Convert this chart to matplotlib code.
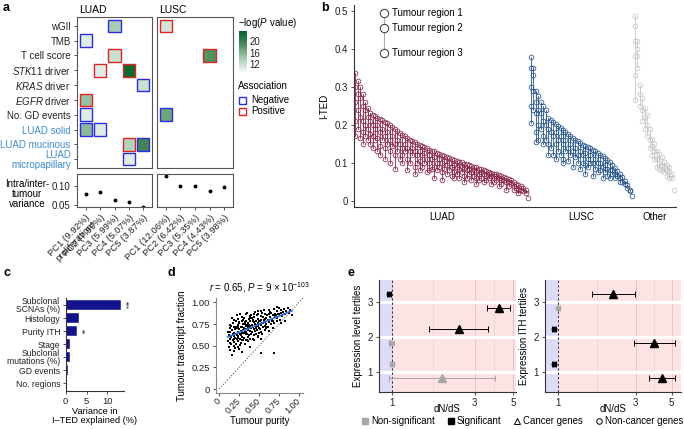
import numpy as np
import matplotlib
matplotlib.use('Agg')
import matplotlib.pyplot as plt
from matplotlib.patches import Rectangle
from matplotlib.colors import LinearSegmentedColormap, Normalize
from matplotlib.lines import Line2D
import matplotlib.transforms as mtransforms

plt.rcParams['font.family'] = ['Liberation Sans', 'DejaVu Sans']
plt.rcParams['mathtext.fontset'] = 'custom'
plt.rcParams['mathtext.rm'] = 'Liberation Sans'
plt.rcParams['mathtext.it'] = 'Liberation Sans:italic'
plt.rcParams['font.size'] = 7
plt.rcParams['axes.edgecolor'] = '#333333'
plt.rcParams['xtick.color'] = '#333333'
plt.rcParams['ytick.color'] = '#333333'
plt.rcParams['xtick.labelcolor'] = '#222222'
plt.rcParams['ytick.labelcolor'] = '#222222'

# ---------------- DATA ----------------
# panel a
a_rows = ['wGII', 'TMB', 'T cell score', r'$\mathit{STK11}$ driver', r'$\mathit{KRAS}$ driver',
          r'$\mathit{EGFR}$ driver', 'No. GD events', 'LUAD solid', 'LUAD mucinous', 'LUAD\nmicropapillary']
a_luad_pcs = ['PC1 (9.92%)\nproliferation*', 'PC2 (7.99%)', 'PC3 (5.99%)', 'PC4 (5.07%)', 'PC5 (3.87%)']
a_lusc_pcs = ['PC1 (12.06%)', 'PC2 (6.42%)', 'PC3 (5.35%)', 'PC4 (4.43%)', 'PC5 (3.98%)']
tile_cohort = ['LUAD'] * 13 + ['LUSC'] * 3
tile_row = [0, 1, 2, 3, 3, 4, 5, 6, 7, 7, 8, 8, 9, 0, 2, 6]
tile_pc = [2, 0, 2, 1, 3, 4, 0, 0, 0, 1, 3, 4, 3, 0, 3, 0]
tile_logp = [14.0, 10.5, 12.0, 10.5, 23.0, 12.0, 15.0, 10.5, 15.5, 10.5, 13.5, 19.5, 10.5, 11.5, 18.5, 17.0]
tile_assoc = ['Negative', 'Negative', 'Positive', 'Positive', 'Positive', 'Negative', 'Positive', 'Negative',
              'Negative', 'Negative', 'Positive', 'Negative', 'Negative', 'Positive', 'Positive', 'Negative']
var_luad = [0.079, 0.083, 0.063, 0.059, 0.046]
var_lusc = [0.127, 0.099, 0.100, 0.088, 0.097]

# panel b: I-TED per tumour region (each inner list = one tumour)
luad_ited = [
    [0.335, 0.30, 0.26, 0.21, 0.17], [0.315, 0.28, 0.24, 0.19], [0.30, 0.27, 0.22, 0.165],
    [0.28, 0.25, 0.21, 0.18, 0.15], [0.26, 0.24, 0.20, 0.17], [0.245, 0.22, 0.19, 0.16],
    [0.232, 0.21, 0.175, 0.15], [0.226, 0.20, 0.17, 0.14], [0.222, 0.19, 0.16],
    [0.219, 0.20, 0.165, 0.13], [0.216, 0.18, 0.145, 0.12], [0.213, 0.19, 0.16],
    [0.208, 0.17, 0.14, 0.11], [0.204, 0.18, 0.15], [0.200, 0.16, 0.13, 0.10],
    [0.195, 0.17, 0.145], [0.190, 0.15, 0.12, 0.085], [0.184, 0.16, 0.13],
    [0.178, 0.15, 0.11], [0.174, 0.14, 0.12, 0.10], [0.170, 0.15, 0.13],
    [0.166, 0.14, 0.11, 0.08], [0.161, 0.13, 0.10], [0.158, 0.14, 0.12],
    [0.154, 0.13, 0.09, 0.07], [0.150, 0.12, 0.10], [0.147, 0.13, 0.105, 0.08],
    [0.144, 0.12, 0.09], [0.141, 0.125, 0.10], [0.138, 0.11, 0.075],
    [0.135, 0.12, 0.10, 0.08], [0.132, 0.11, 0.085], [0.130, 0.115, 0.09, 0.06],
    [0.127, 0.10, 0.08], [0.124, 0.11, 0.09], [0.122, 0.10, 0.075, 0.055],
    [0.119, 0.105, 0.085], [0.116, 0.095, 0.07], [0.114, 0.10, 0.08],
    [0.111, 0.09, 0.065], [0.108, 0.095, 0.075, 0.06], [0.106, 0.09, 0.07],
    [0.103, 0.085, 0.06], [0.101, 0.09, 0.075], [0.098, 0.085, 0.065, 0.05],
    [0.096, 0.08, 0.06], [0.094, 0.085, 0.07], [0.092, 0.075, 0.055],
    [0.090, 0.08, 0.065], [0.088, 0.075, 0.06, 0.045], [0.085, 0.07, 0.055],
    [0.083, 0.075, 0.06], [0.081, 0.07, 0.05], [0.078, 0.065, 0.055],
    [0.076, 0.07, 0.06], [0.074, 0.065, 0.045], [0.072, 0.06, 0.05],
    [0.070, 0.065, 0.055], [0.068, 0.06, 0.04], [0.066, 0.055, 0.045],
    [0.063, 0.055], [0.060, 0.05, 0.03], [0.058, 0.05, 0.04], [0.055, 0.045],
    [0.050, 0.04, 0.03], [0.045, 0.035], [0.041, 0.03, 0.02], [0.038, 0.03],
    [0.035, 0.025], [0.030, 0.02], [0.008],
]
lusc_ited = [
    [0.378, 0.35, 0.30, 0.25, 0.205], [0.35, 0.33, 0.29, 0.24], [0.29, 0.26, 0.23, 0.18, 0.155],
    [0.275, 0.24, 0.20, 0.16], [0.26, 0.23, 0.19], [0.25, 0.21, 0.17, 0.15], [0.24, 0.20, 0.16],
    [0.217, 0.19, 0.15, 0.12], [0.212, 0.18, 0.14], [0.208, 0.17, 0.12], [0.203, 0.18, 0.15, 0.11],
    [0.198, 0.16, 0.13], [0.192, 0.17, 0.12], [0.187, 0.15, 0.11, 0.10], [0.181, 0.16, 0.13],
    [0.176, 0.14, 0.105], [0.170, 0.15, 0.12], [0.165, 0.13, 0.09], [0.161, 0.14, 0.115],
    [0.157, 0.12, 0.10], [0.152, 0.13, 0.085], [0.148, 0.12, 0.10], [0.145, 0.125, 0.095, 0.07],
    [0.141, 0.11, 0.09], [0.138, 0.12, 0.10], [0.134, 0.10, 0.065], [0.130, 0.11, 0.085],
    [0.126, 0.10, 0.075], [0.122, 0.10, 0.08], [0.117, 0.09, 0.06], [0.112, 0.095, 0.075],
    [0.107, 0.085, 0.065], [0.101, 0.08, 0.06], [0.095, 0.08, 0.07], [0.087, 0.07, 0.06],
    [0.079, 0.065], [0.071, 0.06, 0.05], [0.062, 0.05], [0.053, 0.045], [0.043, 0.035],
    [0.030, 0.025], [0.012],
]
other_ited = [
    [0.487, 0.46, 0.42, 0.38, 0.33, 0.265], [0.42, 0.40, 0.38, 0.35], [0.305, 0.28, 0.25],
    [0.27, 0.24, 0.21], [0.245, 0.22, 0.19], [0.225, 0.20, 0.17], [0.19, 0.16, 0.14],
    [0.163, 0.145, 0.12], [0.15, 0.13, 0.11], [0.131, 0.11, 0.09], [0.123, 0.10, 0.085],
    [0.115, 0.095, 0.08], [0.103, 0.09, 0.075], [0.095, 0.08, 0.065], [0.088, 0.075, 0.06],
    [0.07, 0.06], [0.03],
]
b_groups = ['LUAD', 'LUSC', 'Other']

# panel c
c_factors = ['Subclonal\nSCNAs (%)', 'Histology', 'Purity ITH', 'Stage', 'Subclonal\nmutations (%)',
             'GD events', 'No. regions']
c_variance = [13.3, 3.2, 2.8, 1.1, 1.0, 0.6, 0.1]
c_signif = ['***', '', '**', '', '', '', '']

# panel d
d_purity = [
    0.11, 0.12, 0.12, 0.13, 0.13, 0.14, 0.14, 0.15, 0.15, 0.15, 0.16, 0.16, 0.17, 0.17, 0.17, 0.18, 0.18, 0.18,
    0.19, 0.19, 0.19, 0.20, 0.20, 0.20, 0.11, 0.13, 0.14, 0.16, 0.18, 0.19,
    0.21, 0.21, 0.21, 0.22, 0.22, 0.22, 0.23, 0.23, 0.23, 0.24, 0.24, 0.24, 0.25, 0.25, 0.25, 0.26, 0.26, 0.26,
    0.27, 0.27, 0.27, 0.28, 0.28, 0.28, 0.29, 0.29, 0.29, 0.30, 0.30, 0.30, 0.22, 0.24, 0.26, 0.28, 0.23, 0.25,
    0.27, 0.29, 0.21, 0.30,
    0.31, 0.31, 0.31, 0.32, 0.32, 0.32, 0.33, 0.33, 0.33, 0.34, 0.34, 0.34, 0.35, 0.35, 0.35, 0.36, 0.36, 0.36,
    0.37, 0.37, 0.37, 0.38, 0.38, 0.38, 0.39, 0.39, 0.39, 0.40, 0.40, 0.40, 0.32, 0.34, 0.36, 0.38, 0.33, 0.35,
    0.37, 0.39, 0.31, 0.36,
    0.41, 0.41, 0.42, 0.42, 0.42, 0.43, 0.43, 0.44, 0.44, 0.44, 0.45, 0.45, 0.46, 0.46, 0.46, 0.47, 0.47, 0.48,
    0.48, 0.48, 0.49, 0.49, 0.50, 0.50, 0.50, 0.41, 0.43, 0.45, 0.47, 0.49, 0.44, 0.46, 0.48, 0.42, 0.52,
    0.51, 0.51, 0.52, 0.52, 0.53, 0.53, 0.54, 0.54, 0.55, 0.55, 0.56, 0.56, 0.57, 0.57, 0.58, 0.58, 0.59, 0.59,
    0.60, 0.60, 0.52, 0.54, 0.56, 0.58, 0.53, 0.55, 0.57, 0.59,
    0.61, 0.61, 0.62, 0.63, 0.63, 0.64, 0.65, 0.65, 0.66, 0.67, 0.67, 0.68, 0.69, 0.69, 0.70, 0.62, 0.64, 0.66,
    0.69, 0.70,
    0.71, 0.72, 0.73, 0.73, 0.74, 0.75, 0.76, 0.77, 0.77, 0.78, 0.79, 0.80, 0.72, 0.75,
    0.81, 0.82, 0.83, 0.84, 0.86, 0.87, 0.89, 0.91,
]
d_fraction = [
    0.55, 0.62, 0.48, 0.70, 0.58, 0.45, 0.66, 0.60, 0.73, 0.52, 0.68, 0.39, 0.57, 0.63, 0.76, 0.50, 0.71, 0.61,
    0.54, 0.80, 0.65, 0.47, 0.69, 0.59, 0.66, 0.53, 0.74, 0.82, 0.44, 0.58,
    0.63, 0.78, 0.52, 0.70, 0.58, 0.85, 0.66, 0.49, 0.74, 0.61, 0.81, 0.55, 0.69, 0.46, 0.76, 0.64, 0.58, 0.87,
    0.72, 0.53, 0.67, 0.79, 0.60, 0.43, 0.71, 0.65, 0.83, 0.56, 0.75, 0.68, 0.62, 0.72, 0.51, 0.66, 0.59, 0.77,
    0.62, 0.57, 0.71, 0.80,
    0.70, 0.82, 0.59, 0.66, 0.77, 0.52, 0.73, 0.86, 0.63, 0.69, 0.57, 0.79, 0.74, 0.64, 0.88, 0.68, 0.55, 0.76,
    0.81, 0.62, 0.71, 0.67, 0.84, 0.58, 0.73, 0.49, 0.78, 0.70, 0.63, 0.85, 0.75, 0.66, 0.60, 0.79, 0.69, 0.56,
    0.74, 0.82, 0.65, 0.72,
    0.74, 0.66, 0.80, 0.71, 0.58, 0.77, 0.86, 0.69, 0.62, 0.83, 0.75, 0.89, 0.72, 0.64, 0.79, 0.68, 0.85, 0.76,
    0.60, 0.81, 0.73, 0.90, 0.70, 0.78, 0.65, 0.82, 0.57, 0.67, 0.74, 0.61, 0.77, 0.70, 0.87, 0.79, 0.41,
    0.78, 0.69, 0.84, 0.74, 0.80, 0.66, 0.88, 0.76, 0.71, 0.83, 0.79, 0.91, 0.73, 0.86, 0.77, 0.68, 0.82, 0.75,
    0.85, 0.72, 0.90, 0.63, 0.80, 0.87, 0.58, 0.76, 0.81, 0.70,
    0.80, 0.72, 0.86, 0.77, 0.91, 0.83, 0.75, 0.88, 0.81, 0.70, 0.85, 0.79, 0.92, 0.76, 0.84, 0.67, 0.89, 0.78,
    0.42, 0.87,
    0.85, 0.79, 0.90, 0.82, 0.87, 0.93, 0.80, 0.88, 0.76, 0.91, 0.84, 0.89, 0.95, 0.86,
    0.92, 0.86, 0.79, 0.90, 0.94, 0.88, 0.91, 0.85,
]

# panel e
e_level_tertile = [3, 3, 2, 2, 1, 1]
e_level_gene = ['Non-cancer', 'Cancer', 'Cancer', 'Non-cancer', 'Non-cancer', 'Cancer']
e_level_sig = [True, True, True, False, False, False]
e_level_dnds = [0.96, 4.13, 2.43, 0.99, 1.00, 1.94]
e_level_lo = [0.93, 3.55, 1.64, 0.96, 0.97, 0.96]
e_level_hi = [0.99, 4.80, 3.57, 1.02, 1.03, 3.93]
e_ith_tertile = [3, 3, 2, 2, 1, 1]
e_ith_gene = ['Cancer', 'Non-cancer', 'Non-cancer', 'Cancer', 'Non-cancer', 'Cancer']
e_ith_sig = [True, False, True, True, True, True]
e_ith_dnds = [2.18, 1.01, 0.95, 3.89, 0.945, 4.38]
e_ith_lo = [1.62, 0.99, 0.92, 2.93, 0.92, 3.62]
e_ith_hi = [2.97, 1.03, 0.98, 5.22, 0.97, 5.22]
e_dodge = [1, -1, 1, -1, 1, -1]

# ---------------- FIGURE ----------------
W, H = 684, 429
fig = plt.figure(figsize=(W / 100, H / 100), dpi=100)


def box(l, t, r, b):
    return [l / W, 1 - b / H, (r - l) / W, (b - t) / H]


def ftext(x, y, s, **kw):
    fig.text(x / W, 1 - y / H, s, **kw)


for lab, (x, y) in zip('abcde', [(3, 8), (321, 8), (4, 273), (168, 273), (348, 273)]):
    ftext(x, y, lab, fontsize=9, fontweight='bold', va='center', ha='left')

# ---- panel a ----
cmap = LinearSegmentedColormap.from_list('grn', ['#eff9f8', '#a9cdb3', '#4c8c5c', '#04652a'])
norm = Normalize(9.3, 23.5)
assoc_col = {'Negative': '#2b2bea', 'Positive': '#e42222'}
blue_lab = '#3f8dd0'

heat_axes = {}
for cohort, l, r in [('LUAD', 77, 152), ('LUSC', 157, 233)]:
    ax = fig.add_axes(box(l, 17, r, 168))
    ax.set_xlim(-0.6, 4.6)
    ax.set_ylim(9.6, -0.6)
    for s in ax.spines.values():
        s.set_color('#555555')
        s.set_linewidth(0.8)
    ax.set_xticks([])
    if cohort == 'LUAD':
        ax.set_yticks(range(len(a_rows)))
        ax.set_yticklabels(a_rows, fontsize=7, linespacing=0.95)
        ax.tick_params(axis='y', length=2.5, width=0.6, pad=2)
        for t in ax.get_yticklabels()[7:]:
            t.set_color(blue_lab)
    else:
        ax.set_yticks([])
    heat_axes[cohort] = ax
    ftext(l + 2, 10, cohort, fontsize=7.5, va='center', ha='left')

for c, rw, pc, v, asc in zip(tile_cohort, tile_row, tile_pc, tile_logp, tile_assoc):
    ax = heat_axes[c]
    ax.add_patch(Rectangle((pc - 0.42, rw - 0.42), 0.84, 0.84, facecolor=cmap(norm(v)),
                           edgecolor=assoc_col[asc], lw=1.0))

for cohort, l, r, vals, labs in [('LUAD', 77, 152, var_luad, a_luad_pcs), ('LUSC', 157, 233, var_lusc, a_lusc_pcs)]:
    ax = fig.add_axes(box(l, 174, r, 207))
    ax.set_xlim(-0.6, 4.6)
    ax.set_ylim(0.0447, 0.1316)
    ax.plot(range(5), vals, 'o', color='black', ms=1.8)
    for s in ax.spines.values():
        s.set_color('#555555')
        s.set_linewidth(0.8)
    ax.set_xticks(range(5))
    ax.set_xticklabels(labs, rotation=45, ha='right', va='top', rotation_mode='anchor', fontsize=6.8,
                       multialignment='right', linespacing=0.9)
    ax.tick_params(axis='x', length=2.5, width=0.6, pad=2)
    if cohort == 'LUAD':
        ax.set_yticks([0.05, 0.10])
        ax.set_yticklabels(['0.05', '0.10'], fontsize=7)
        ax.tick_params(axis='y', length=2.5, width=0.6, pad=2)
    else:
        ax.set_yticks([])
ftext(27, 194, 'Intra/inter-\ntumour\nvariance', ha='center', va='center', fontsize=7, linespacing=1.05)

# colorbar
cax = fig.add_axes(box(239, 31, 247, 72))
grad = np.linspace(norm.vmin, norm.vmax, 200)[:, None]
cax.imshow(grad, aspect='auto', cmap=cmap, norm=norm, origin='lower',
           extent=[0, 1, norm.vmin, norm.vmax])
cax.set_xticks([])
cax.yaxis.tick_right()
cax.set_yticks([12, 16, 20])
cax.set_yticklabels(['12', '16', '20'], fontsize=7)
cax.tick_params(axis='y', length=0, pad=2)
for s in cax.spines.values():
    s.set_visible(False)
ftext(238, 23, '\u2212log($\\mathit{P}$ value)', fontsize=7, va='center', ha='left')
ftext(238, 86, 'Association', fontsize=7, va='center', ha='left')
for yy, lab in [(100, 'Negative'), (111, 'Positive')]:
    fig.add_artist(Rectangle(((239) / W, 1 - (yy + 3.5) / H), 7 / W, 7 / H, transform=fig.transFigure,
                             facecolor='white', edgecolor=assoc_col[lab], lw=1.0))
    ftext(251, yy, lab, fontsize=7, va='center', ha='left')

# ---- panel b ----
axb = fig.add_axes(box(354, 5, 676, 207))
b_colors = {'LUAD': '#8a2646', 'LUSC': '#24548c', 'Other': '#c6c6c6'}
x0 = 0
for name, data in zip(b_groups, [luad_ited, lusc_ited, other_ited]):
    col = b_colors[name]
    for j, vals in enumerate(data):
        x = x0 + j
        if len(vals) > 1:
            axb.plot([x, x], [min(vals), max(vals)], color=col, lw=0.6, zorder=2)
        axb.plot([x] * len(vals), vals, 'o', mfc='none', mec=col, ms=3.4, mew=0.55, zorder=3)
    trans = mtransforms.blended_transform_factory(axb.transData, axb.transAxes)
    axb.text(x0 + (len(data) - 1) / 2, -0.05, name, transform=trans, ha='center', va='center', fontsize=7)
    x0 += len(data)
axb.set_xlim(-0.5, x0 - 0.3)
axb.set_ylim(-0.016, 0.515)
axb.set_xticks([])
axb.set_yticks([0, 0.1, 0.2, 0.3, 0.4, 0.5])
axb.set_yticklabels(['0', '0.1', '0.2', '0.3', '0.4', '0.5'], fontsize=7)
axb.tick_params(axis='y', length=2.5, width=0.6, pad=2)
axb.spines['top'].set_visible(False)
axb.spines['right'].set_visible(False)
for s in ['left', 'bottom']:
    axb.spines[s].set_linewidth(0.8)
axb.set_ylabel('I-TED', fontsize=7, labelpad=4)
# legend
lx = 0.093
ly = [0.96, 0.886, 0.762]
axb.plot([lx, lx], [ly[0], ly[2]], color='#aaaaaa', lw=0.8, transform=axb.transAxes, zorder=4)
for yv, lab in zip(ly, ['Tumour region 1', 'Tumour region 2', 'Tumour region 3']):
    axb.plot([lx], [yv], 'o', mfc='white', mec='#333333', ms=6, mew=0.7, transform=axb.transAxes, zorder=5)
    axb.text(lx + 0.025, yv, lab, transform=axb.transAxes, va='center', ha='left', fontsize=7)

# ---- panel c ----
axc = fig.add_axes(box(65.7, 298, 124, 391))
yc = np.arange(len(c_factors))
axc.barh(yc, c_variance, height=0.78, color='#12128c', edgecolor='white', lw=0.3)
axc.set_ylim(len(c_factors) - 0.4, -0.55)
axc.set_xlim(0, 14)
axc.set_yticks(yc)
axc.set_yticklabels(c_factors, fontsize=6.2, linespacing=0.85)
axc.set_xticks([0, 5, 10])
axc.set_xticklabels(['0', '5', '10'], fontsize=6.8)
axc.tick_params(length=2.5, width=0.6, pad=1.5)
axc.spines['top'].set_visible(False)
axc.spines['right'].set_visible(False)
for s in ['left', 'bottom']:
    axc.spines[s].set_linewidth(0.8)
for y, v, s in zip(yc, c_variance, c_signif):
    if s:
        axc.annotate(s, (v, y), xytext=(3.0, 0), textcoords='offset points', rotation=270,
                     ha='center', va='center', fontsize=5, annotation_clip=False)
axc.set_xlabel('Variance in\nI\u2013TED explained (%)', fontsize=6.6, labelpad=1, linespacing=1.0)

# ---- panel d ----
axd = fig.add_axes(box(216, 298, 303, 393))
px = np.array(d_purity)
fy = np.array(d_fraction)
axd.scatter(px, fy, s=3.8, c='black', marker='s', lw=0, zorder=2)
axd.plot([0, 1.05], [0, 1.05], ls=(0, (1.5, 2)), color='#444444', lw=0.6, zorder=1)
k, b0 = np.polyfit(px, fy, 1)
xx = np.array([px.min(), px.max()])
axd.plot(xx, k * xx + b0, color='#3a6fd8', lw=1.3, zorder=3)
axd.set_xlim(-0.04, 1.05)
axd.set_ylim(-0.046, 1.05)
ticks = [0, 0.25, 0.5, 0.75, 1.0]
tl = ['0', '0.25', '0.50', '0.75', '1.00']
axd.set_xticks(ticks)
axd.set_xticklabels(tl, rotation=45, ha='right', va='center', rotation_mode='anchor', fontsize=6.6)
axd.set_yticks(ticks)
axd.set_yticklabels(tl, fontsize=6.8)
axd.tick_params(length=2.5, width=0.6, pad=2)
axd.tick_params(axis='x', pad=2)
axd.spines['top'].set_visible(False)
axd.spines['right'].set_visible(False)
for s in ['left', 'bottom']:
    axd.spines[s].set_linewidth(0.8)
    axd.spines[s].set_color('#888888')
axd.set_xlabel('Tumour purity', fontsize=7, labelpad=1)
axd.set_ylabel('Tumour transcript fraction', fontsize=7, labelpad=3)
axd.set_title('$\\mathit{r}$ = 0.65, $\\mathit{P}$ = 9 \u00d7 10$^{\u2212103}$', fontsize=7, pad=5)

# ---- panel e ----
def dnds_panel(rect, xlim, tert, gene, sig, val, lo, hi, ylabel):
    ax = fig.add_axes(rect)
    ax.set_xscale('log')
    ax.set_xlim(*xlim)
    ax.set_ylim(0.42, 3.63)
    ax.axvspan(xlim[0], 1, color='#dcdcf8', lw=0, zorder=0)
    ax.axvspan(1, xlim[1], color='#fde3e3', lw=0, zorder=0)
    for xv in [np.sqrt(3), np.sqrt(15)]:
        ax.axvline(xv, color='#ead0d0', lw=0.5, zorder=1)
    for xv in [3, 5]:
        ax.axvline(xv, color='#e2c6c6', lw=0.7, zorder=1)
    for yv in [1, 2, 3]:
        ax.axhline(yv, color='white', lw=2.4, zorder=1)
    ax.axvline(1, color='#333333', lw=0.7, ls=(0, (2.5, 2)), zorder=2)
    for t, g, sg, v, l_, h_, dg in zip(tert, gene, sig, val, lo, hi, e_dodge):
        y = t + (0.22 if dg > 0 else -0.18)
        col = 'black' if sg else '#a8a8a8'
        ax.errorbar([v], [y], xerr=[[v - l_], [h_ - v]], fmt='none', ecolor=col, elinewidth=0.7,
                    capsize=2, capthick=0.7, zorder=3)
        if g == 'Cancer':
            ax.plot([v], [y], marker='^', color=col, ms=5.5, zorder=4, ls='none')
        else:
            ax.plot([v], [y], marker='o', color=col, ms=3.2, zorder=4, ls='none')
    ax.set_xticks([1, 3, 5])
    ax.set_xticklabels(['1', '3', '5'], fontsize=7)
    ax.xaxis.set_minor_locator(matplotlib.ticker.NullLocator())
    ax.set_yticks([1, 2, 3])
    ax.set_yticklabels(['1', '2', '3'], fontsize=7)
    ax.tick_params(length=2.5, width=0.6, pad=2)
    ax.spines['top'].set_visible(False)
    ax.spines['right'].set_visible(False)
    for s in ['left', 'bottom']:
        ax.spines[s].set_linewidth(0.8)
    ax.set_xlabel('dN/dS', fontsize=7, labelpad=-3)
    ax.set_ylabel(ylabel, fontsize=7, labelpad=3)
    return ax


dnds_panel(box(379, 280, 516, 392), (0.84, 5.2), e_level_tertile, e_level_gene, e_level_sig,
           e_level_dnds, e_level_lo, e_level_hi, 'Expression level tertiles')
dnds_panel(box(545, 280, 681, 392), (0.835, 5.7), e_ith_tertile, e_ith_gene, e_ith_sig,
           e_ith_dnds, e_ith_lo, e_ith_hi, 'Expression ITH tertiles')

handles = [Line2D([], [], marker='s', color='#a8a8a8', ls='none', ms=5),
           Line2D([], [], marker='s', color='black', ls='none', ms=5),
           Line2D([], [], marker='^', mfc='none', mec='black', ls='none', ms=5, mew=0.7),
           Line2D([], [], marker='o', mfc='none', mec='black', ls='none', ms=4, mew=0.7)]
fig.legend(handles, ['Non-significant', 'Significant', 'Cancer genes', 'Non-cancer genes'],
           loc='center', bbox_to_anchor=(522 / W, 1 - 421.5 / H), ncol=4, frameon=False, fontsize=6.9,
           handletextpad=0.15, columnspacing=1.25, handlelength=0.9, borderpad=0)

fig.savefig('out.png', dpi=100)
